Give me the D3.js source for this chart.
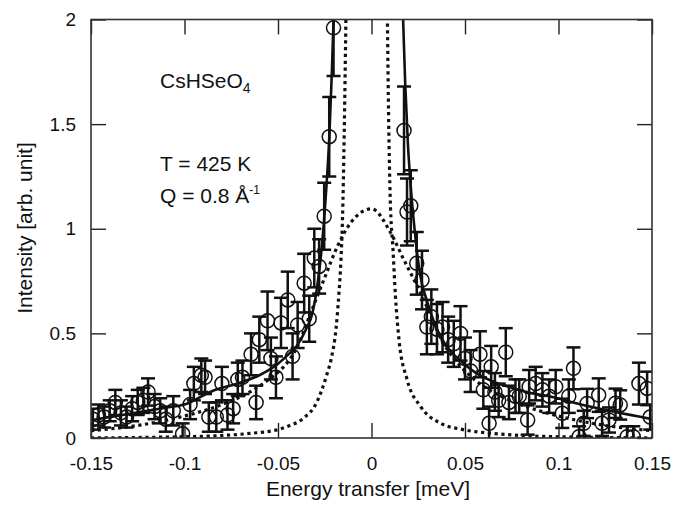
<!DOCTYPE html>
<html>
<head>
<meta charset="utf-8">
<script src="https://cdn.jsdelivr.net/npm/d3@7"></script>
<style>
  html, body { margin: 0; padding: 0; background: #fff; }
  svg { display: block; }
  text { font-family: "Liberation Sans", Arial, Helvetica, sans-serif; fill: #111; }
</style>
</head>
<body>
<svg id="chart" width="676" height="505"></svg>
<script>
// ---------------- data ----------------
const xTicks = [-0.15, -0.1, -0.05, 0, 0.05, 0.1, 0.15];
const yTicks = [0, 0.5, 1, 1.5, 2];

// measured points: energy (meV), intensity, error (half length)
const dataE = [
  -0.149, -0.146, -0.143, -0.140, -0.137, -0.134, -0.131, -0.128, -0.125, -0.122,
  -0.1195, -0.116, -0.113, -0.110, -0.106, -0.101, -0.097, -0.095, -0.091, -0.089,
  -0.087, -0.083, -0.080, -0.077, -0.074, -0.0715, -0.069, -0.0644, -0.0617, -0.060,
  -0.0556, -0.0538, -0.0511, -0.0484, -0.0448, -0.0422, -0.0395, -0.036, -0.0333, -0.0306,
  -0.028, -0.0253, -0.0226, -0.0203,
  0.0174, 0.019, 0.021, 0.0242, 0.027, 0.0296, 0.0320, 0.035, 0.038, 0.041,
  0.044, 0.0476, 0.050, 0.053, 0.0580, 0.0598, 0.0629, 0.0640, 0.066, 0.068,
  0.0718, 0.0735, 0.077, 0.079, 0.0835, 0.0843, 0.0878, 0.0914, 0.095, 0.0985,
  0.102, 0.1055, 0.108, 0.111, 0.1135, 0.1153, 0.1215, 0.1233, 0.127, 0.1305,
  0.133, 0.1367, 0.140, 0.143, 0.1474, 0.149
];
const dataI = [
  0.09, 0.11, 0.10, 0.13, 0.17, 0.12, 0.10, 0.14, 0.17, 0.18,
  0.22, 0.15, 0.13, 0.09, 0.13, 0.02, 0.16, 0.26, 0.30, 0.29,
  0.10, 0.10, 0.26, 0.11, 0.14, 0.28, 0.29, 0.40, 0.17, 0.47,
  0.56, 0.38, 0.29, 0.55, 0.66, 0.39, 0.54, 0.74, 0.57, 0.86,
  0.82, 1.06, 1.44, 1.96,
  1.47, 1.08, 1.11, 0.835, 0.755, 0.53, 0.58, 0.52, 0.53, 0.47,
  0.45, 0.50, 0.38, 0.32, 0.40, 0.23, 0.07, 0.34, 0.22, 0.18,
  0.41, 0.17, 0.20, 0.20, 0.086, 0.245, 0.26, 0.23, 0.20, 0.245,
  0.118, 0.20, 0.333, 0.006, 0.07, 0.165, 0.205, 0.07, 0.086, 0.166,
  0.158, 0.006, 0.006, 0.26, 0.237, 0.10
];
const dataErr = [
  0.05, 0.05, 0.05, 0.05, 0.06, 0.06, 0.05, 0.06, 0.06, 0.06,
  0.065, 0.06, 0.06, 0.06, 0.07, 0.05, 0.07, 0.08, 0.08, 0.08,
  0.07, 0.07, 0.08, 0.07, 0.07, 0.08, 0.08, 0.10, 0.08, 0.11,
  0.14, 0.10, 0.10, 0.12, 0.135, 0.11, 0.11, 0.14, 0.11, 0.14,
  0.13, 0.16, 0.19, 0.23,
  0.21, 0.16, 0.17, 0.15, 0.14, 0.13, 0.13, 0.12, 0.12, 0.11,
  0.11, 0.13, 0.10, 0.10, 0.11, 0.09, 0.08, 0.10, 0.09, 0.08,
  0.115, 0.08, 0.08, 0.08, 0.07, 0.08, 0.08, 0.08, 0.08, 0.08,
  0.07, 0.08, 0.10, 0.05, 0.06, 0.07, 0.08, 0.06, 0.06, 0.07,
  0.07, 0.05, 0.05, 0.10, 0.08, 0.06
];

// total fit (solid line), left and right branches
const fitLeftE = [-0.15, -0.13, -0.11, -0.10, -0.085, -0.07, -0.06, -0.05, -0.045, -0.04,
                  -0.035, -0.0315, -0.0288, -0.0265, -0.0245, -0.0225, -0.0212, -0.0203, -0.0195];
const fitLeftI = [0.085, 0.115, 0.145, 0.16, 0.225, 0.265, 0.30, 0.355, 0.395, 0.44,
                  0.52, 0.60, 0.74, 0.92, 1.15, 1.45, 1.75, 2.0, 2.25];
const fitRightE = [0.0162, 0.0169, 0.018, 0.0195, 0.021, 0.023, 0.026, 0.0295, 0.035, 0.04,
                   0.045, 0.05, 0.056, 0.065, 0.075, 0.085, 0.095, 0.11, 0.13, 0.15];
const fitRightI = [2.25, 2.0, 1.7, 1.4, 1.2, 1.0, 0.78, 0.66, 0.52, 0.44,
                   0.39, 0.35, 0.31, 0.27, 0.24, 0.215, 0.20, 0.165, 0.125, 0.09];

// broad component (dotted)
const broadE = [-0.15, -0.125, -0.10, -0.08, -0.065, -0.055, -0.047, -0.04, -0.0324, -0.0253,
                -0.018, -0.011, 0, 0.0103, 0.0174, 0.0228, 0.03, 0.038, 0.047, 0.055,
                0.065, 0.08, 0.10, 0.125, 0.15];
const broadI = [0.035, 0.06, 0.105, 0.16, 0.22, 0.28, 0.34, 0.43, 0.60, 0.76,
                0.92, 1.03, 1.095, 0.98, 0.85, 0.755, 0.62, 0.46, 0.35, 0.28,
                0.22, 0.16, 0.105, 0.06, 0.035];

// narrow component (dotted), left and right branches
const narrowLeftE = [-0.15, -0.12, -0.10, -0.08, -0.065, -0.05, -0.045, -0.0365, -0.0293, -0.024,
                     -0.0215, -0.019, -0.0175, -0.0164, -0.0155, -0.0146, -0.0137, -0.0130];
const narrowLeftI = [0.0, 0.003, 0.006, 0.012, 0.022, 0.04, 0.055, 0.094, 0.17, 0.30,
                     0.38, 0.52, 0.68, 0.84, 1.05, 1.45, 2.0, 2.5];
const narrowRightE = [0.0078, 0.0085, 0.0092, 0.0100, 0.0115, 0.0128, 0.0147, 0.019, 0.0263, 0.037,
                      0.049, 0.065, 0.08, 0.10, 0.12, 0.15];
const narrowRightI = [2.5, 2.0, 1.5, 1.15, 0.9, 0.68, 0.47, 0.28, 0.15, 0.07,
                      0.04, 0.022, 0.012, 0.006, 0.003, 0.0];

// ---------------- drawing ----------------
const svg = d3.select("#chart");
const L = 91, R = 652, T = 19.5, B = 438;
const x = d3.scaleLinear().domain([-0.15, 0.15]).range([L, R]);
const y = d3.scaleLinear().domain([0, 2]).range([B, T]);
const FS = 19;   // tick labels
const FT = 21;   // titles and annotations

svg.append("defs").append("clipPath").attr("id", "plotclip")
  .append("rect").attr("x", L).attr("y", T).attr("width", R - L).attr("height", B - T);

const plot = svg.append("g").attr("clip-path", "url(#plotclip)");

const line = d3.line().x(d => x(d[0])).y(d => y(d[1])).curve(d3.curveMonotoneX);
const zip = (a, b) => a.map((v, i) => [v, b[i]]);

// dotted components
[[narrowLeftE, narrowLeftI], [narrowRightE, narrowRightI], [broadE, broadI]].forEach(([e, v]) => {
  plot.append("path").datum(zip(e, v))
    .attr("d", line).attr("fill", "none").attr("stroke", "#111")
    .attr("stroke-width", 3.2).attr("stroke-dasharray", "3.2,3.6");
});

// solid fit
[[fitLeftE, fitLeftI], [fitRightE, fitRightI]].forEach(([e, v]) => {
  plot.append("path").datum(zip(e, v))
    .attr("d", line).attr("fill", "none").attr("stroke", "#111")
    .attr("stroke-width", 2.6);
});

// data with error bars
const pts = dataE.map((e, i) => ({ e, v: dataI[i], s: dataErr[i] }));
const cap = 7;
const eb = plot.append("g").attr("stroke", "#111").attr("stroke-width", 2.5);
pts.forEach(p => {
  const cx = x(p.e), y1 = y(p.v + p.s), y0 = y(p.v - p.s);
  eb.append("line").attr("x1", cx).attr("x2", cx).attr("y1", y1).attr("y2", y0);
  eb.append("line").attr("x1", cx - cap).attr("x2", cx + cap).attr("y1", y1).attr("y2", y1);
  eb.append("line").attr("x1", cx - cap).attr("x2", cx + cap).attr("y1", y0).attr("y2", y0);
});
plot.append("g").selectAll("circle").data(pts).join("circle")
  .attr("cx", d => x(d.e)).attr("cy", d => y(d.v)).attr("r", 7)
  .attr("fill", "none").attr("stroke", "#111").attr("stroke-width", 1.5);

// axes
const fmt = d => String(d);
const gx = svg.append("g").attr("transform", `translate(0,${B})`)
  .call(d3.axisBottom(x).tickValues(xTicks).tickFormat(fmt).tickSizeInner(-15).tickSizeOuter(0).tickPadding(19));
const gy = svg.append("g").attr("transform", `translate(${L},0)`)
  .call(d3.axisLeft(y).tickValues(yTicks).tickFormat(fmt).tickSizeInner(-15).tickSizeOuter(0).tickPadding(15));
const gt = svg.append("g").attr("transform", `translate(0,${T})`)
  .call(d3.axisTop(x).tickValues(xTicks).tickFormat("").tickSizeInner(-15).tickSizeOuter(0));
const gr = svg.append("g").attr("transform", `translate(${R},0)`)
  .call(d3.axisRight(y).tickValues(yTicks).tickFormat("").tickSizeInner(-15).tickSizeOuter(0));
[gx, gy, gt, gr].forEach(g => {
  g.select(".domain").remove();
  g.selectAll(".tick line").attr("stroke", "#222").attr("stroke-width", 1.4);
  g.selectAll(".tick text").attr("font-size", FS).attr("fill", "#111")
    .style("font-family", '"Liberation Sans", Arial, sans-serif');
});

// frame
svg.append("rect").attr("x", L).attr("y", T).attr("width", R - L).attr("height", B - T)
  .attr("fill", "none").attr("stroke", "#333").attr("stroke-width", 1.6);

// axis titles
svg.append("text").attr("x", 368).attr("y", 496).attr("text-anchor", "middle")
  .attr("font-size", FT).text("Energy transfer [meV]");
svg.append("text").attr("transform", `translate(32,228) rotate(-90)`)
  .attr("text-anchor", "middle").attr("font-size", FT).text("Intensity [arb. unit]");

// annotations
const a1 = svg.append("text").attr("x", 160).attr("y", 88).attr("font-size", FT);
a1.append("tspan").text("CsHSeO");
a1.append("tspan").attr("font-size", 14).attr("dy", 5).text("4");
svg.append("text").attr("x", 160).attr("y", 171).attr("font-size", FT).text("T = 425 K");
const a3 = svg.append("text").attr("x", 160).attr("y", 203).attr("font-size", FT);
a3.append("tspan").text("Q = 0.8 Å");
a3.append("tspan").attr("font-size", 12).attr("dy", -9).text("-1");
</script>
</body>
</html>
